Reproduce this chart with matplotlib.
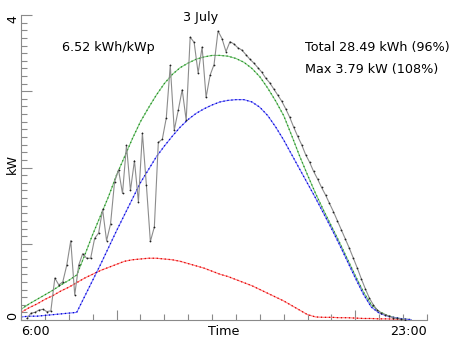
import numpy as np
import matplotlib
matplotlib.use("Agg")
from matplotlib import pyplot as plt
from matplotlib.ticker import MultipleLocator

# measured output, 10 min samples from 6:15
measured_kw = [
    0.02, 0.09, 0.10, 0.13, 0.14, 0.11, 0.12,
    0.55, 0.46, 0.50, 0.72, 1.04, 0.33, 0.72, 0.87, 0.81, 0.81,
    1.07, 1.14, 1.45, 1.04, 1.26, 1.81, 1.97, 1.66, 2.29, 1.70,
    2.09, 1.55, 2.45, 1.77, 1.03, 1.22, 2.33, 2.37, 2.65, 3.34,
    2.49, 2.75, 3.02, 2.62, 3.71, 3.64, 3.24, 3.58, 2.92, 3.21,
    3.35, 3.79, 3.69, 3.52, 3.65, 3.62, 3.57, 3.54, 3.48, 3.42, 3.37,
    3.31, 3.25, 3.17, 3.11, 3.03, 2.95, 2.87, 2.77, 2.66, 2.53,
    2.41, 2.30, 2.17, 2.07, 1.95, 1.85, 1.74, 1.64, 1.53, 1.42,
    1.30, 1.18, 1.06, 0.94, 0.81, 0.68, 0.54, 0.41, 0.29, 0.20,
    0.13, 0.09, 0.07, 0.05, 0.03, 0.02, 0.01, 0.005,
]
measured_start = 6.25
measured_step = 10 / 60

# clear sky model, 20 min samples from 6:00
model_start = 6.0
model_step = 20 / 60
model_total = [
    0.14, 0.21, 0.27, 0.33, 0.39, 0.46, 0.52, 0.59,
    0.85, 1.12, 1.37, 1.62, 1.90, 2.14, 2.38, 2.60, 2.78, 2.95,
    3.10, 3.22, 3.31, 3.37, 3.42, 3.45, 3.47, 3.47, 3.46, 3.43,
    3.38, 3.30, 3.19, 3.04, 2.87, 2.68, 2.42, 2.15, 1.90, 1.66,
    1.44, 1.23, 1.02, 0.80, 0.58, 0.37, 0.20, 0.11, 0.06, 0.03,
    0.015, 0.005,
]
model_direct = [
    0.04, 0.05, 0.05, 0.06, 0.07, 0.08, 0.09, 0.10,
    0.31, 0.52, 0.73, 0.95, 1.17, 1.38, 1.59, 1.80, 1.97, 2.14,
    2.28, 2.41, 2.53, 2.63, 2.71, 2.77, 2.82, 2.86, 2.88, 2.89,
    2.89, 2.86, 2.79, 2.68, 2.53, 2.36, 2.17, 1.98, 1.79, 1.60,
    1.40, 1.20, 0.99, 0.77, 0.55, 0.34, 0.17, 0.09, 0.05, 0.03,
    0.013, 0.004,
]
model_diffuse = [
    0.10, 0.16, 0.21, 0.27, 0.32, 0.38, 0.43, 0.49,
    0.55, 0.60, 0.65, 0.69, 0.73, 0.77, 0.79, 0.80, 0.81, 0.81,
    0.80, 0.79, 0.77, 0.74, 0.71, 0.68, 0.64, 0.60, 0.57, 0.53,
    0.49, 0.45, 0.40, 0.35, 0.30, 0.25, 0.19, 0.13, 0.07, 0.04,
    0.035, 0.035, 0.03, 0.03, 0.025, 0.02, 0.02, 0.015, 0.015, 0.01,
    0.01, 0.005,
]

day_label = "3 July"
yield_label = "6.52 kWh/kWp"
total_label = "Total 28.49 kWh (96%)"
max_label = "Max 3.79 kW (108%)"

t_meas = measured_start + measured_step * np.arange(len(measured_kw))
t_model = model_start + model_step * np.arange(len(model_total))

W, H = 452, 339
fig = plt.figure(figsize=(W / 100, H / 100), dpi=100)
ax = fig.add_axes([21 / W, 19 / H, 406 / W, 305 / H])

fs = 9.2


def model_line(y, light, dark):
    ax.plot(t_model, y, color=light, lw=0.8, zorder=2)
    ax.plot(t_model, y, color=dark, lw=0.9, ls=(0, (1, 2.2)), zorder=2)


model_line(model_diffuse, "#ff7f7f", "#e00000")
model_line(model_total, "#80c880", "#1f8f1f")
model_line(model_direct, "#8080ff", "#0000d0")

ax.plot(t_meas, measured_kw, color="#8c8c8c", lw=0.8, zorder=3)
ax.plot(t_meas, measured_kw, ls="none", marker="o", ms=1.3,
        mfc="#202020", mec="none", zorder=4)

ax.set_xlim(6, 23)
ax.set_ylim(0, 4)

for s in ("top", "right"):
    ax.spines[s].set_visible(False)
for s in ("left", "bottom"):
    ax.spines[s].set_color("#8a8a8a")
    ax.spines[s].set_linewidth(0.8)

ax.set_xticks([10, 20])
ax.xaxis.set_minor_locator(MultipleLocator(1))
ax.yaxis.set_major_locator(MultipleLocator(1))
ax.yaxis.set_minor_locator(MultipleLocator(0.1))
ax.tick_params(which="both", direction="in", color="#8a8a8a", width=0.8,
               labelbottom=False, labelleft=False)
ax.tick_params(axis="x", which="major", length=7)
ax.tick_params(axis="x", which="minor", length=4)
ax.tick_params(axis="y", which="major", length=8)
ax.tick_params(axis="y", which="minor", length=4)

# axis labels drawn as text
lab_y = -5 / 305
ax.text(6, lab_y, "6:00", transform=ax.get_xaxis_transform(),
        ha="left", va="top", fontsize=fs)
ax.text(14.5, lab_y, "Time", transform=ax.get_xaxis_transform(),
        ha="center", va="top", fontsize=fs)
ax.text(23, lab_y, "23:00", transform=ax.get_xaxis_transform(),
        ha="right", va="top", fontsize=fs)

lab_x = -8.5 / 406
ax.text(lab_x, 4, "4", transform=ax.get_yaxis_transform(), rotation=90,
        ha="center", va="top", fontsize=fs)
ax.text(lab_x, 0, "0", transform=ax.get_yaxis_transform(), rotation=90,
        ha="center", va="bottom", fontsize=fs)
ax.text(lab_x, 2.05, "kW", transform=ax.get_yaxis_transform(), rotation=90,
        ha="center", va="center", fontsize=fs)

fig.text(201 / W, 1 - 18 / H, day_label, ha="center", va="center", fontsize=fs)
fig.text(108 / W, 1 - 47.5 / H, yield_label, ha="center", va="center", fontsize=fs)
fig.text(305 / W, 1 - 47.5 / H, total_label, ha="left", va="center", fontsize=fs)
fig.text(305 / W, 1 - 69 / H, max_label, ha="left", va="center", fontsize=fs)

fig.savefig("out.png", dpi=100)
